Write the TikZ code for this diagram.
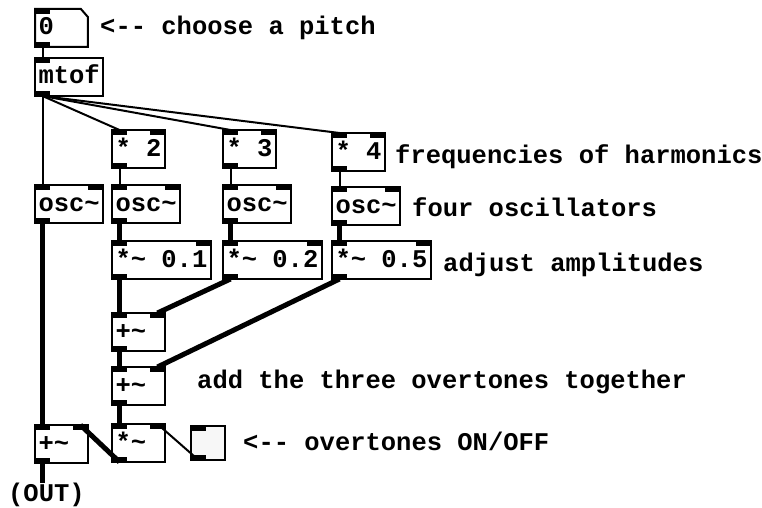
\documentclass[tikz,border=0pt]{standalone}
\usepackage{fontspec}
\setmonofont{Liberation Mono}
\usetikzlibrary{calc}

\newcommand{\pdfont}{\fontsize{25.5}{30}\selectfont\ttfamily\bfseries}
\newcommand{\tld}{\textasciitilde}

\tikzset{
  obj/.style={draw,line width=2pt,anchor=north west,minimum height=38pt,
    inner xsep=3.5pt,inner ysep=0pt,outer sep=0pt,text height=17pt,text depth=3pt,font=\pdfont},
  note/.style={anchor=west,inner sep=0pt,font=\pdfont},
  ctl/.style={line width=2pt},
  sig/.style={line width=5pt}
}

\begin{document}
\begin{tikzpicture}[x=1pt,y=-1pt]
\useasboundingbox (0,0) rectangle (762,508);

% objects
\node[obj,draw=none] (num) at (35,9) {0\hphantom{00}};
\draw[line width=2pt] (num.north west) -- ($(num.north east)+(-7,0)$) -- ($(num.north east)+(0,8)$)
  -- (num.south east) -- (num.south west) -- cycle;
\node[obj] (mtof) at (35,58) {mtof};

\node[obj] (mul2) at (112,130) {* 2};
\node[obj] (mul3) at (223,130) {* 3};
\node[obj] (mul4) at (332,133) {* 4};

\node[obj] (osc1) at (35,185) {osc\tld};
\node[obj] (osc2) at (112,185) {osc\tld};
\node[obj] (osc3) at (223,185) {osc\tld};
\node[obj] (osc4) at (332,187) {osc\tld};

\node[obj] (amp1) at (112,241) {*\tld{} 0.1};
\node[obj] (amp2) at (223,241) {*\tld{} 0.2};
\node[obj] (amp3) at (332,241) {*\tld{} 0.5};

\node[obj] (add1) at (112,313) {+\tld\hphantom{0}};
\node[obj] (add2) at (112,367) {+\tld\hphantom{0}};
\node[obj] (gate) at (112,424) {*\tld\hphantom{0}};
\node[obj] (sum) at (35,425) {+\tld\hphantom{0}};
\node[draw,line width=2pt,fill=black!3,minimum size=34pt,anchor=north west,
  inner sep=0pt,outer sep=0pt] (tgl) at (191,426) {};

% comments
\node[note] (c1) at (100,28) {<-- choose a pitch};
\node[note] (c2) at (395,157) {frequencies of harmonics};
\node[note] (c3) at (412,207) {four oscillators};
\node[note] (c4) at (443,265) {adjust amplitudes};
\node[note] (c5) at (197,382) {add the three overtones together};
\node[note] (c6) at (243,441) {<-- overtones ON/OFF};
\node[note] (out) at (8,495) {(OUT)};

% ports
\foreach \n in {num,mtof,osc1,osc2,osc3,osc4,mul2,mul3,mul4,amp1,amp2,amp3,add1,add2,gate,sum,tgl} {
  \coordinate (\n-i) at ($(\n.north west)+(7.5,0)$);
  \coordinate (\n-o) at ($(\n.south west)+(7.5,0)$);
  \coordinate (\n-r) at ($(\n.north east)+(-7.5,0)$);
}

% connections
\draw[ctl] (num-o) -- (mtof-i);
\draw[ctl] (mtof-o) -- (osc1-i);
\draw[ctl] (mtof-o) -- (mul2-i);
\draw[ctl] (mtof-o) -- (mul3-i);
\draw[ctl] (mtof-o) -- (mul4-i);
\draw[ctl] (mul2-o) -- (osc2-i);
\draw[ctl] (mul3-o) -- (osc3-i);
\draw[ctl] (mul4-o) -- (osc4-i);
\draw[ctl] (tgl-o) -- (gate-r);

\draw[sig] (osc1-o) -- (sum-i);
\draw[sig] (osc2-o) -- (amp1-i);
\draw[sig] (osc3-o) -- (amp2-i);
\draw[sig] (osc4-o) -- (amp3-i);
\draw[sig] (amp1-o) -- (add1-i);
\draw[sig] (amp2-o) -- (add1-r);
\draw[sig] (amp3-o) -- (add2-r);
\draw[sig] (add1-o) -- (add2-i);
\draw[sig] (add2-o) -- (gate-i);
\draw[sig] (gate-o) -- (sum-r);
\draw[sig] (sum-o) -- (sum-o |- out.north);

% inlets and outlets
\foreach \n in {num,mtof,tgl} {
  \fill (\n.north west) rectangle ++(15,5);
  \fill (\n.south west) rectangle ++(15,-5);
}
\foreach \n in {osc1,osc2,osc3,osc4,mul2,mul3,mul4,amp1,amp2,amp3,add1,add2,gate,sum} {
  \fill (\n.north west) rectangle ++(15,5);
  \fill (\n.north east) rectangle ++(-15,5);
  \fill (\n.south west) rectangle ++(15,-5);
}
\end{tikzpicture}
\end{document}
